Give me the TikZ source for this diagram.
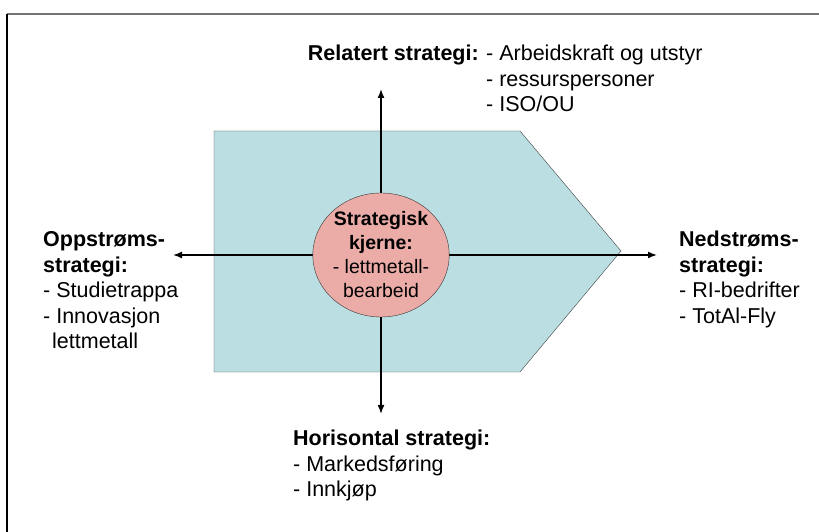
\documentclass[tikz,border=0pt]{standalone}
\usepackage{fontspec}
\setmainfont{Liberation Sans}
\usepackage{tikz}
\usetikzlibrary{arrows.meta}
\usetikzlibrary{shapes.geometric}
\pgfdeclarelayer{bg}
\pgfsetlayers{bg,main}
\definecolor{kasse}{RGB}{187,222,226}
\definecolor{kjerne}{RGB}{235,172,168}

\begin{document}
\begin{tikzpicture}[x=1pt, y=1pt,
		pil/.style={line width=1.5pt, -{Latex[length=9pt,width=7pt]}},
		tekst/.style={inner sep=0pt, font=\fontsize{21.5}{25.5}\selectfont, anchor=base west}]
				\useasboundingbox (0,0) rectangle (819,532);
				\draw[line width=1.4pt, black!55] (7,518) -- (819,518);
				\draw[line width=1.4pt] (7,518) -- (7,0);
				\node[ellipse, draw=black!80, fill=kjerne, minimum width=130pt, minimum height=124pt, inner sep=0pt, align=center, font=\fontsize{19.5}{24}\selectfont] (core) at (381,277) {\textbf{Strategisk}\\\textbf{kjerne:}\\- lettmetall-\\bearbeid};
				\coordinate (opp) at (381,443);
				\coordinate (ned) at (381,118);
				\coordinate (venstre) at (173,277);
				\coordinate (hoyre) at (657,277);
				\begin{pgfonlayer}{bg}
					\draw[draw=black!75, fill=kasse] (214,401) -- (520,401) -- (621,281) -- (520,160) -- (214,160) -- cycle;
					\foreach \ende in {opp,ned,venstre,hoyre} {
						\draw[pil] (core.center) -- (\ende);
					}
				\end{pgfonlayer}
				\node[tekst, anchor=base east] (relatert) at (479,471) {\textbf{Relatert strategi:}};
				\node[tekst] (relliste) at (486,471) {\begin{tabular}[t]{@{}l@{}}- Arbeidskraft og utstyr\\- ressurspersoner\\- ISO/OU\end{tabular}};
				\node[tekst] (oppstrom) at (43,285) {\begin{tabular}[t]{@{}l@{}}\textbf{Oppstrøms-}\\\textbf{strategi:}\\- Studietrappa\\- Innovasjon\\\hspace{9pt}lettmetall\end{tabular}};
				\node[tekst] (nedstrom) at (679,285) {\begin{tabular}[t]{@{}l@{}}\textbf{Nedstrøms-}\\\textbf{strategi:}\\- RI-bedrifter\\- TotAl-Fly\end{tabular}};
				\node[tekst] (horisontal) at (293,86) {\begin{tabular}[t]{@{}l@{}}\textbf{Horisontal strategi:}\\- Markedsføring\\- Innkjøp\end{tabular}};
			\end{tikzpicture}
\end{document}
